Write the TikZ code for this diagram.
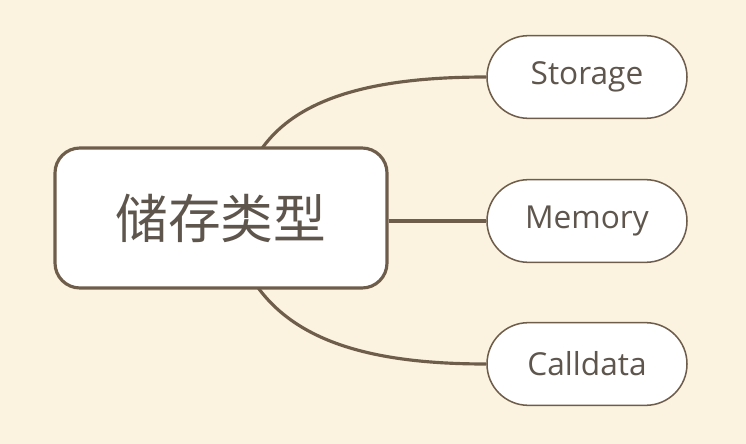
\documentclass[tikz,border=0pt]{standalone}
\usepackage{fontspec}
\setmainfont{Open Sans}
\newfontfamily\cjk{Noto Sans CJK SC}
\usepackage{xcolor}
\usetikzlibrary{calc,backgrounds}

\definecolor{paper}{HTML}{FBF3DF}
\definecolor{bark}{HTML}{6F5D4C}
\definecolor{ink}{HTML}{5E554D}

\tikzset{
  rootbox/.style={draw=bark, line width=2.7pt, fill=white, rounded corners=0.75cm,
    minimum width=9.96cm, minimum height=4.2cm, text=ink, inner sep=0pt},
  leafbox/.style={draw=bark, line width=1.3pt, fill=white, rounded corners=1.24cm,
    minimum width=6cm, minimum height=2.48cm, text=ink, inner sep=0pt},
  branch/.style={draw=bark, line width=2.7pt}
}

\begin{document}
\begin{tikzpicture}[x=0.03cm, y=-0.03cm]
	\newcommand{\leafX}{587}
	\newcommand{\rootFont}{\fontsize{45}{45}\selectfont\cjk}
	\newcommand{\leafFont}{\fontsize{27}{27}\selectfont}

	\useasboundingbox (0,0) rectangle (746,444);

	% nodes
	\node[rootbox] (root) at (221,218) {\rootFont 储存类型};
	\node[leafbox] (storage) at (\leafX,77) {\leafFont Storage};
	\node[leafbox] (memory) at (\leafX,221) {\leafFont Memory};
	\node[leafbox] (calldata) at (\leafX,364) {\leafFont Calldata};

	\coordinate (top_start) at ($(root.north)+(41,2)$);
	\coordinate (bottom_start) at ($(root.south)+(37,-2)$);

	\begin{scope}[on background layer]
		% background
		\fill[paper] (0,0) rectangle (746,444);
		% draw branches
		\draw[branch] (top_start) .. controls (300,95) and (380,77) .. (storage.west);
		\draw[branch] (root.east |- memory.west) -- (memory.west);
		\draw[branch] (bottom_start) .. controls (300,345) and (380,364) .. (calldata.west);
	\end{scope}
\end{tikzpicture}
\end{document}
